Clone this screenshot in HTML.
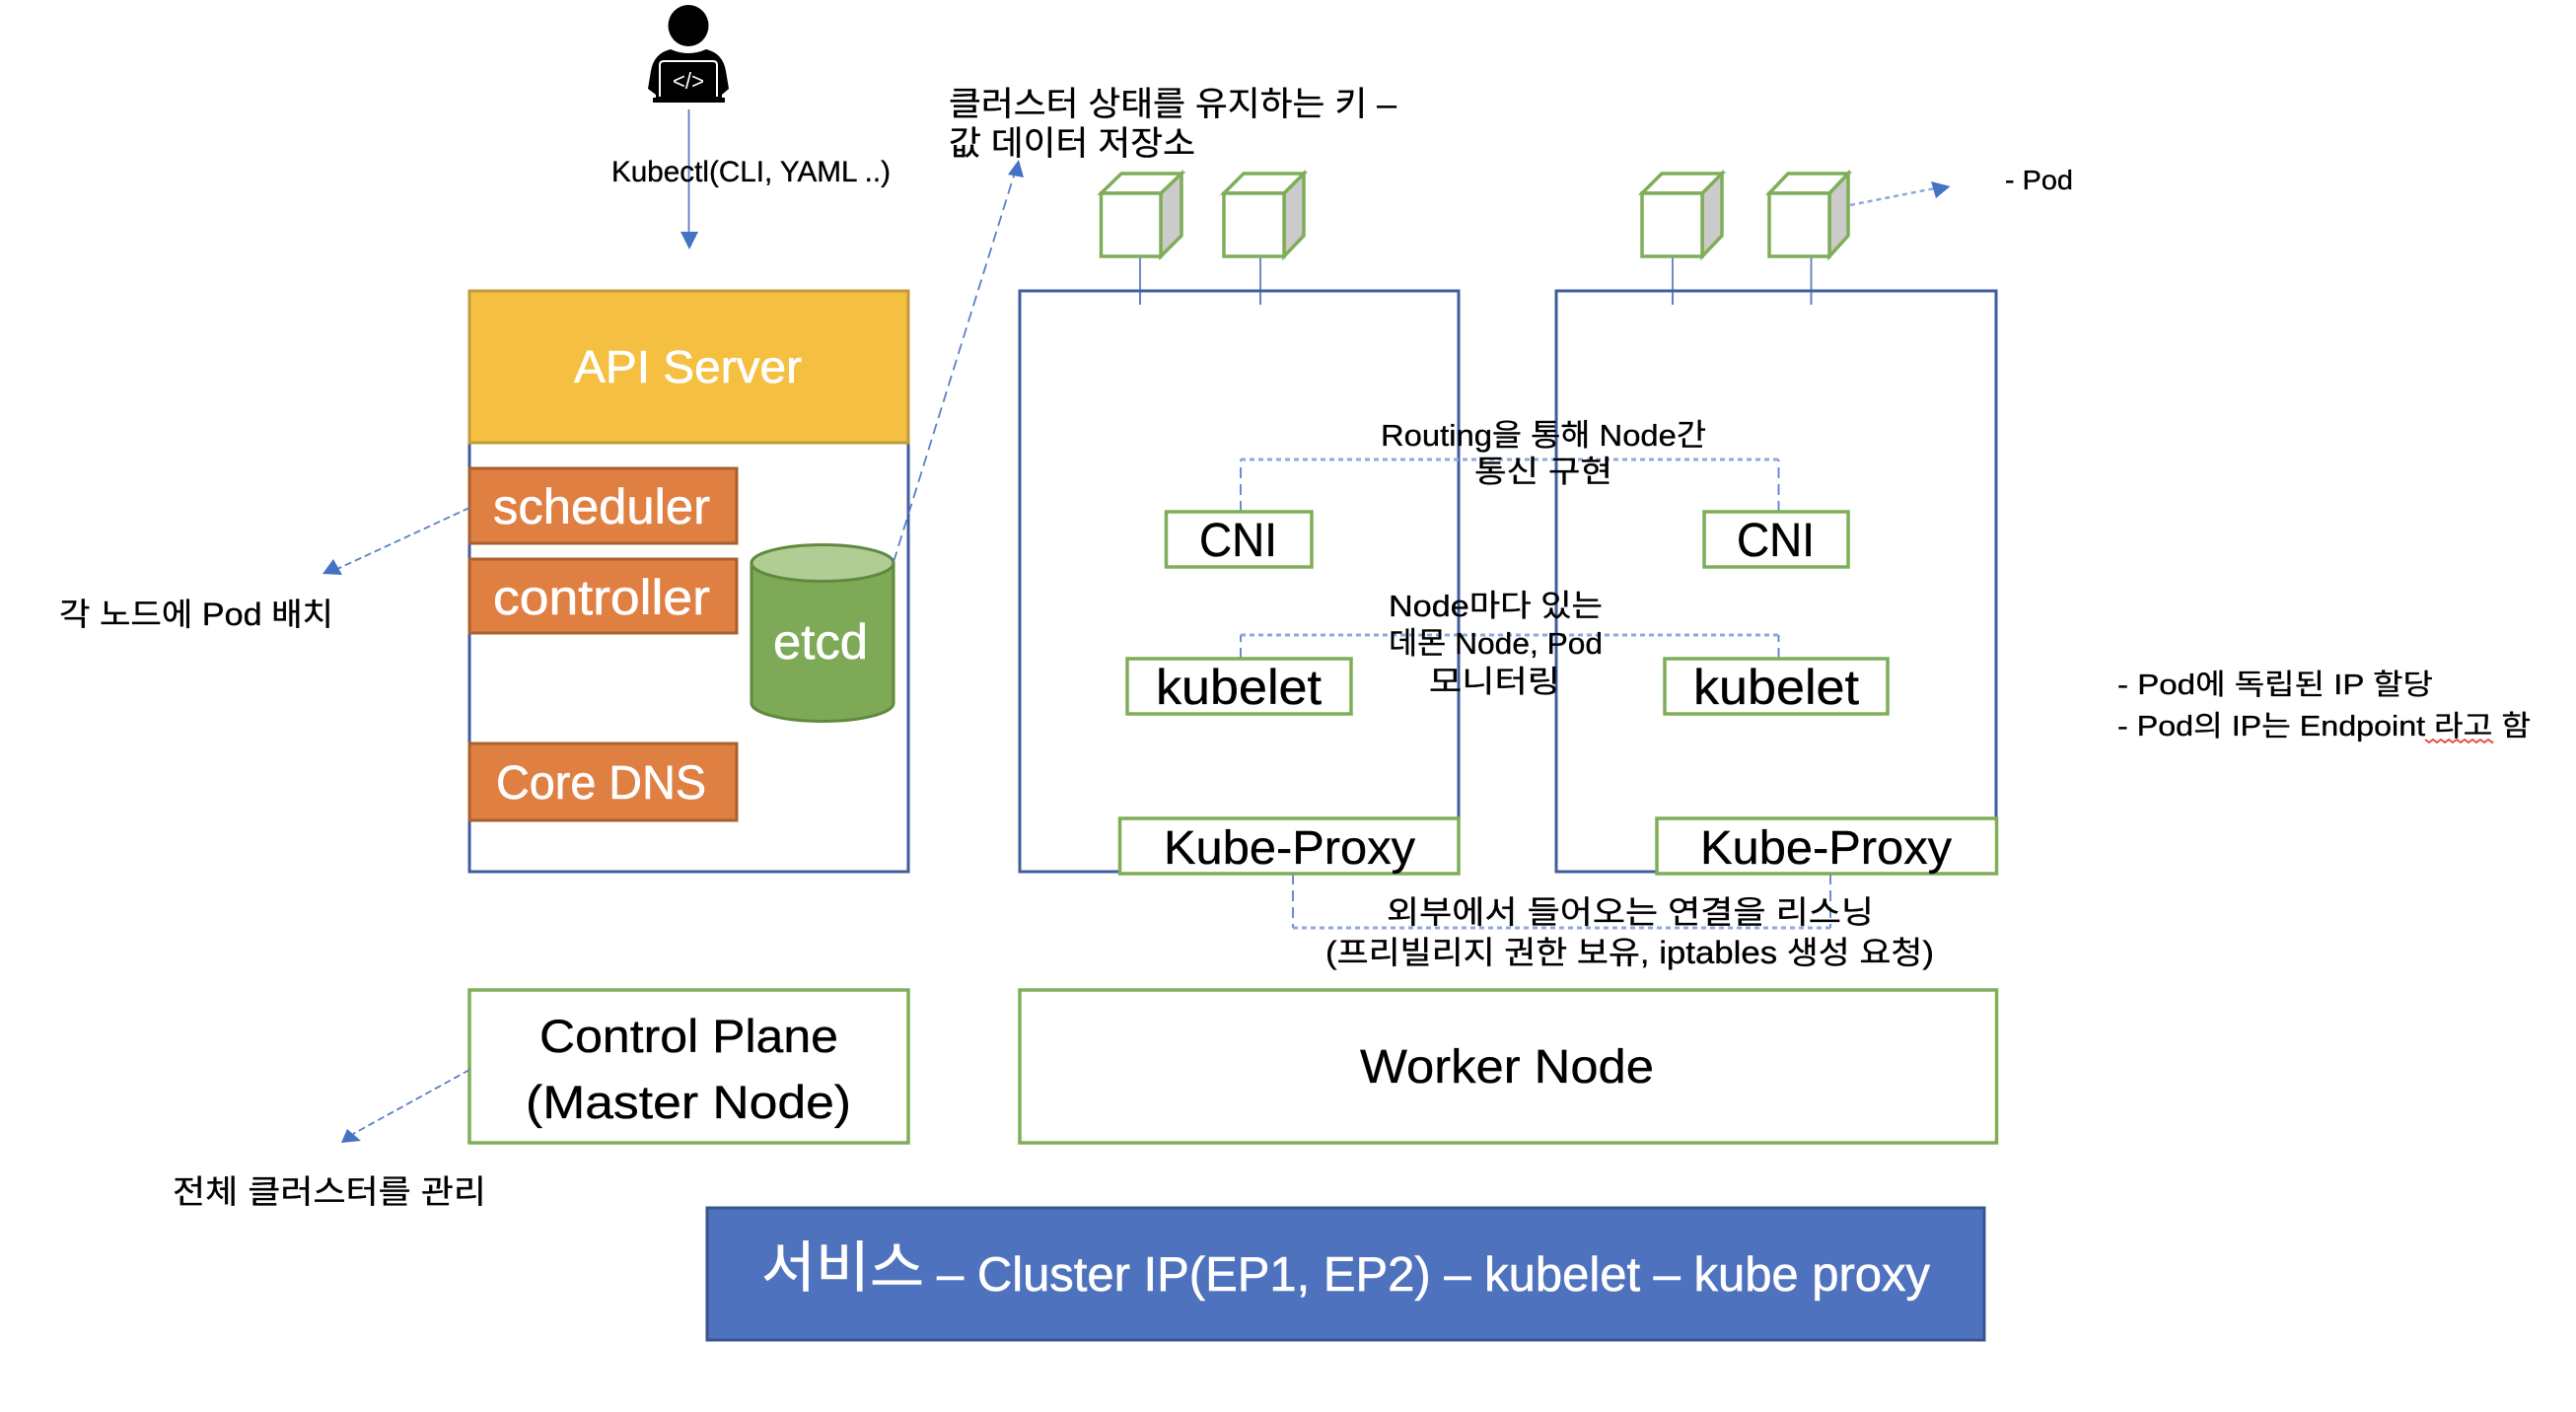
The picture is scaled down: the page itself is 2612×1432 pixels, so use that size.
<!DOCTYPE html>
<html><head><meta charset="utf-8"><style>
html,body{margin:0;padding:0;background:#fff;width:2612px;height:1432px;overflow:hidden}
svg{display:block}
text{font-family:"Liberation Sans","Noto Sans CJK KR",sans-serif;fill:#000}
.w{fill:#fff}
.t{stroke:#000;stroke-width:.35}
.u{stroke:#fff;stroke-width:.6}
.b{fill:none;stroke:#3f5d9e;stroke-width:3}
.g{fill:#fff;stroke:#7fad58;stroke-width:3.5}
.o{fill:#e07f42;stroke:#a9602f;stroke-width:3}
.c{stroke:#5b7fc8;stroke-width:1.8;fill:none}
.d{stroke:#5b7fc8;stroke-width:1.8;fill:none;stroke-dasharray:11 6}
.s{stroke:#8fa8dd;stroke-width:3;fill:none;stroke-dasharray:5 4}
.h{fill:#4472c4}
</style></head><body>
<svg width="2612" height="1432" viewBox="0 0 2612 1432" xmlns="http://www.w3.org/2000/svg">
<rect width="2612" height="1432" fill="#fff"/>

<!-- person -->
<ellipse cx="698" cy="26" rx="20.5" ry="21"/>
<path d="M680 50Q698 58 716 50Q733 54 736 72L739 90L732 96L732 99L735 99L735 104L662 104L662 99L665 99L665 96L657 90L660 72Q663 54 680 50Z"/>
<path d="M669 98V66Q669 62 673 62H723Q727 62 727 66V98" fill="none" stroke="#fff" stroke-width="2"/>
<text x="682" y="90" class="w" font-size="23" textLength="32" lengthAdjust="spacingAndGlyphs">&lt;/&gt;</text>

<!-- kubectl arrow -->
<line x1="698.5" y1="111" x2="698.5" y2="238" class="c"/>
<polygon points="690,235 708,235 699,253" class="h"/>
<text x="620" y="184" class="t" font-size="30" textLength="283" lengthAdjust="spacingAndGlyphs">Kubectl(CLI, YAML ..)</text>

<!-- etcd label -->
<text x="962" y="117" class="t" font-size="34" textLength="454" lengthAdjust="spacingAndGlyphs">클러스터 상태를 유지하는 키 –</text>
<text x="962" y="157" class="t" font-size="34" textLength="250" lengthAdjust="spacingAndGlyphs">값 데이터 저장소</text>

<!-- control plane body -->
<rect x="476" y="295" width="445" height="589" class="b" fill="none"/>
<rect x="476" y="295" width="445" height="154" fill="#f5c042" stroke="#c09a3c" stroke-width="3"/>
<text x="582" y="388" class="w u" font-size="46" textLength="231" lengthAdjust="spacingAndGlyphs">API Server</text>

<rect x="476" y="475" width="271" height="76" class="o"/>
<text x="500" y="531" class="w u" font-size="50" textLength="220" lengthAdjust="spacingAndGlyphs">scheduler</text>
<rect x="476" y="567" width="271" height="75" class="o"/>
<text x="500" y="623" class="w u" font-size="50" textLength="220" lengthAdjust="spacingAndGlyphs">controller</text>
<rect x="476" y="754" width="271" height="78" class="o"/>
<text x="503" y="810" class="w u" font-size="48" textLength="213" lengthAdjust="spacingAndGlyphs">Core DNS</text>

<!-- cylinder -->
<path d="M762 571V713A72 18.5 0 0 0 906 713V571Z" fill="#7ea957" stroke="#5f8a3f" stroke-width="3"/>
<ellipse cx="834" cy="571" rx="72" ry="18.5" fill="#b0cd94" stroke="#5f8a3f" stroke-width="3"/>
<text x="784" y="668" class="w u" font-size="50" textLength="96" lengthAdjust="spacingAndGlyphs">etcd</text>

<!-- etcd arrow -->
<line x1="906" y1="570" x2="1029" y2="175" class="d"/>
<polygon points="1033,162 1022,177 1038,180" class="h"/>

<!-- scheduler arrow -->
<line x1="476" y1="515" x2="342" y2="577" class="d" style="stroke-dasharray:7 4"/>
<polygon points="338,567 327,582 347,583" class="h"/>
<text x="60" y="634" class="t" font-size="32" textLength="278" lengthAdjust="spacingAndGlyphs">각 노드에 Pod 배치</text>

<!-- control plane box -->
<rect x="476" y="1004" width="445" height="155" class="g"/>
<text x="547" y="1067" class="t" font-size="47" textLength="303" lengthAdjust="spacingAndGlyphs">Control Plane</text>
<text x="533" y="1134" class="t" font-size="47" textLength="330" lengthAdjust="spacingAndGlyphs">(Master Node)</text>
<line x1="476" y1="1085" x2="358" y2="1150" class="d" style="stroke-dasharray:7 4"/>
<polygon points="352,1145 346,1159 366,1157" class="h"/>
<text x="175" y="1220" class="t" font-size="33" textLength="318" lengthAdjust="spacingAndGlyphs">전체 클러스터를 관리</text>

<!-- pod connectors -->
<line x1="1156" y1="260" x2="1156" y2="309" class="c"/>
<line x1="1278" y1="260" x2="1278" y2="309" class="c"/>
<line x1="1696" y1="260" x2="1696" y2="309" class="c"/>
<line x1="1836.5" y1="260" x2="1836.5" y2="309" class="c"/>

<!-- worker node boxes -->
<rect x="1034" y="295" width="445" height="589" class="b"/>
<rect x="1578" y="295" width="446" height="589" class="b"/>
<line x1="1156" y1="296" x2="1156" y2="309" class="c"/>
<line x1="1278" y1="296" x2="1278" y2="309" class="c"/>
<line x1="1696" y1="296" x2="1696" y2="309" class="c"/>
<line x1="1836.5" y1="296" x2="1836.5" y2="309" class="c"/>

<!-- cubes -->
<g stroke="#7fad58" stroke-width="3.5" stroke-linejoin="miter">
<polygon points="1177,196 1198,176 1198,239 1177,260" fill="#cbcbcb"/><polygon points="1116.500,196 1137,176 1198,176 1177,196" fill="#fff"/><rect x="1116.500" y="196" width="60.500" height="64" fill="#fff"/>
<polygon points="1302,196 1322,176 1322,239 1302,260" fill="#cbcbcb"/><polygon points="1241,196 1261,176 1322,176 1302,196" fill="#fff"/><rect x="1241" y="196" width="61" height="64" fill="#fff"/>
<polygon points="1726,196 1746,176 1746,239 1726,260" fill="#cbcbcb"/><polygon points="1665,196 1685,176 1746,176 1726,196" fill="#fff"/><rect x="1665" y="196" width="61" height="64" fill="#fff"/>
<polygon points="1855,196 1874,176 1874,239 1855,260" fill="#cbcbcb"/><polygon points="1794,196 1813,176 1874,176 1855,196" fill="#fff"/><rect x="1794" y="196" width="61" height="64" fill="#fff"/>
</g>

<!-- pod arrow -->
<line x1="1876" y1="208" x2="1962" y2="191" class="s" style="stroke-width:2.500"/>
<polygon points="1958,184 1977.500,189 1963,201" class="h"/>
<text x="2033" y="192" class="t" font-size="28" textLength="69" lengthAdjust="spacingAndGlyphs">- Pod</text>

<!-- routing -->
<path d="M1258 519V466" class="d" stroke-dasharray="9 6"/>
<path d="M1803.500 519V466" class="d"/>
<line x1="1258" y1="466" x2="1803.500" y2="466" class="s"/>
<rect x="1182.500" y="519" width="147.500" height="56" class="g"/>
<rect x="1728" y="519" width="146" height="56" class="g"/>
<text x="1216" y="564" class="t" font-size="48" textLength="79" lengthAdjust="spacingAndGlyphs">CNI</text>
<text x="1761" y="564" class="t" font-size="48" textLength="79" lengthAdjust="spacingAndGlyphs">CNI</text>
<text x="1400" y="452" class="t" font-size="31" textLength="330" lengthAdjust="spacingAndGlyphs">Routing을 통해 Node간</text>
<text x="1495" y="489" class="t" font-size="31" textLength="140" lengthAdjust="spacingAndGlyphs">통신 구현</text>

<!-- kubelet -->
<path d="M1258 668V644" class="d"/>
<path d="M1803.500 668V644" class="d"/>
<line x1="1258" y1="644" x2="1803.500" y2="644" class="s"/>
<rect x="1143" y="668" width="227" height="56" class="g"/>
<rect x="1688" y="668" width="226" height="56" class="g"/>
<text x="1172" y="714" class="t" font-size="50" textLength="168" lengthAdjust="spacingAndGlyphs">kubelet</text>
<text x="1717" y="714" class="t" font-size="50" textLength="168" lengthAdjust="spacingAndGlyphs">kubelet</text>
<text x="1408" y="625" class="t" font-size="31" textLength="217" lengthAdjust="spacingAndGlyphs">Node마다 있는</text>
<text x="1408" y="663" class="t" font-size="31" textLength="217" lengthAdjust="spacingAndGlyphs">데몬 Node, Pod</text>
<text x="1449" y="702" class="t" font-size="31" textLength="133" lengthAdjust="spacingAndGlyphs">모니터링</text>

<!-- kube proxy -->
<path d="M1311 886V941" class="d"/>
<path d="M1856 886V941" class="d"/>
<line x1="1311" y1="941" x2="1856" y2="941" class="s"/>
<rect x="1135.500" y="830" width="343.500" height="56" class="g"/>
<rect x="1680" y="830" width="344.500" height="56" class="g"/>
<text x="1180" y="876" class="t" font-size="48" textLength="255" lengthAdjust="spacingAndGlyphs">Kube-Proxy</text>
<text x="1724" y="876" class="t" font-size="48" textLength="255" lengthAdjust="spacingAndGlyphs">Kube-Proxy</text>
<text x="1406" y="936" class="t" font-size="32" textLength="494" lengthAdjust="spacingAndGlyphs">외부에서 들어오는 연결을 리스닝</text>
<text x="1344" y="977" class="t" font-size="32" textLength="617" lengthAdjust="spacingAndGlyphs">(프리빌리지 권한 보유, iptables 생성 요청)</text>

<!-- worker node label -->
<rect x="1034" y="1004" width="990.500" height="155" class="g"/>
<text x="1379" y="1098" class="t" font-size="48" textLength="298" lengthAdjust="spacingAndGlyphs">Worker Node</text>

<!-- service -->
<rect x="717" y="1225" width="1295" height="134" fill="#4f72be" stroke="#3a558e" stroke-width="3"/>
<text x="772" y="1305" class="w u" font-size="56" textLength="165" lengthAdjust="spacingAndGlyphs">서비스</text>
<text x="950" y="1309" class="w u" font-size="49" textLength="1007" lengthAdjust="spacingAndGlyphs">– Cluster IP(EP1, EP2) – kubelet – kube proxy</text>

<!-- right notes -->
<text x="2147" y="704" class="t" font-size="29" textLength="320" lengthAdjust="spacingAndGlyphs">- Pod에 독립된 IP 할당</text>
<text x="2147" y="746" class="t" font-size="29" textLength="419" lengthAdjust="spacingAndGlyphs">- Pod의 IP는 Endpoint 라고 함</text>
<path d="M2459 750l4 3l4-3l4 3l4-3l4 3l4-3l4 3l4-3l4 3l4-3l4 3l4-3l4 3l4-3l4 3l4-3l4 3l1-1" fill="none" stroke="#e8453c" stroke-width="1.800"/>
</svg>
</body></html>
